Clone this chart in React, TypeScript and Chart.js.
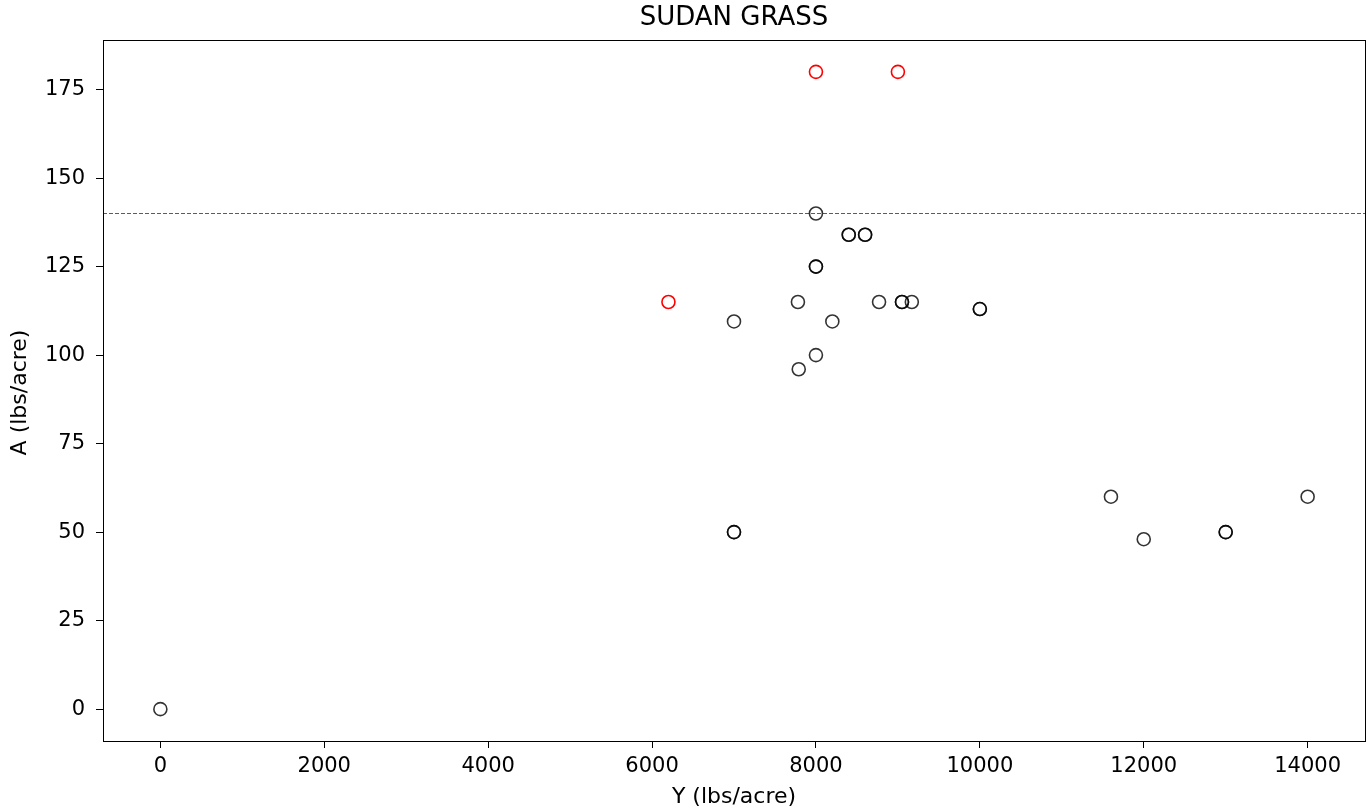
import React, { useEffect, useRef } from "react";
import { Chart, registerables } from "chart.js";

Chart.register(...registerables);

const TITLE = "SUDAN GRASS";
const X_LABEL = "Y (lbs/acre)";
const Y_LABEL = "A (lbs/acre)";

const blackX = [0, 8000, 8400, 8400, 8600, 8600, 8000, 8000, 7780, 8770, 9050, 9050, 9170, 10000, 10000, 7000, 8200, 8000, 7790, 7000, 7000, 11600, 12000, 13000, 13000, 14000];
const blackY = [0, 140, 134, 134, 134, 134, 125, 125, 115, 115, 115, 115, 115, 113, 113, 109.5, 109.5, 100, 96, 50, 50, 60, 48, 50, 50, 60];

const redX = [8000, 9000, 6200];
const redY = [180, 180, 115];

const THRESHOLD = 140;

const X_MIN = -700;
const X_MAX = 14700;
const Y_MIN = -9;
const Y_MAX = 189;
const X_TICKS = [0, 2000, 4000, 6000, 8000, 10000, 12000, 14000];
const Y_TICKS = [0, 25, 50, 75, 100, 125, 150, 175];

const FONT = "'DejaVu Sans', sans-serif";

export default function App() {
  const ref = useRef<HTMLCanvasElement>(null);

  useEffect(() => {
    if (!ref.current) return;
    const toPts = (xs: number[], ys: number[]) => xs.map((x, i) => ({ x, y: ys[i] }));

    const decor = {
      id: "decor",
      afterDraw(chart: any) {
        const { ctx, chartArea } = chart;
        ctx.save();
        ctx.strokeStyle = "#000";
        ctx.lineWidth = 1;
        ctx.strokeRect(Math.round(chartArea.left) + 0.5, Math.round(chartArea.top) + 0.5, Math.round(chartArea.right - chartArea.left), Math.round(chartArea.bottom - chartArea.top));
        ctx.fillStyle = "#000";
        ctx.textAlign = "center";
        ctx.textBaseline = "middle";
        const cx = (chartArea.left + chartArea.right) / 2;
        const cy = (chartArea.top + chartArea.bottom) / 2;
        ctx.font = `26px ${FONT}`;
        ctx.fillText(TITLE, cx, 18);
        ctx.font = `22px ${FONT}`;
        ctx.fillText(X_LABEL, cx, 797);
        ctx.translate(20, cy + 2);
        ctx.rotate(-Math.PI / 2);
        ctx.fillText(Y_LABEL, 0, 0);
        ctx.restore();
      },
    };

    const chart = new Chart(ref.current, {
      type: "scatter",
      data: {
        datasets: [
          {
            type: "line",
            data: [
              { x: X_MIN, y: THRESHOLD },
              { x: X_MAX, y: THRESHOLD },
            ],
            borderColor: "rgba(40,40,255,0.85)",
            borderWidth: 1.2,
            borderDash: [4, 2],
            pointRadius: 0,
            fill: false,
            showLine: true,
            order: 3,
          },
          {
            data: toPts(blackX, blackY),
            pointStyle: "circle",
            pointRadius: 6.5,
            pointBorderWidth: 1.6,
            pointBackgroundColor: "rgba(0,0,0,0)",
            pointBorderColor: "rgba(0,0,0,0.8)",
            order: 1,
          },
          {
            data: toPts(redX, redY),
            pointStyle: "circle",
            pointRadius: 6.5,
            pointBorderWidth: 1.6,
            pointBackgroundColor: "rgba(0,0,0,0)",
            pointBorderColor: "rgba(255,0,0,1)",
            order: 2,
          },
        ],
      },
      plugins: [decor],
      options: {
        animation: false,
        responsive: false,
        events: [],
        layout: { autoPadding: false, padding: { top: 40, right: 3, left: 0, bottom: 0 } },
        plugins: {
          legend: { display: false },
          title: { display: false },
          tooltip: { enabled: false },
        },
        scales: {
          x: {
            type: "linear",
            min: X_MIN,
            max: X_MAX,
            afterBuildTicks(scale: any) {
              scale.ticks = X_TICKS.map((v) => ({ value: v }));
            },
            afterFit(scale: any) {
              scale.height = 69;
              scale.paddingLeft = 0;
              scale.paddingRight = 0;
            },
            ticks: {
              color: "#000",
              font: { family: FONT, size: 21 },
              padding: 6,
              maxRotation: 0,
              autoSkip: false,
              callback: (v: any) => String(v),
            },
            grid: {
              display: true,
              drawOnChartArea: false,
              drawTicks: true,
              tickLength: 7,
              color: "#000",
              lineWidth: 1,
            },
            border: { display: false },
          },
          y: {
            type: "linear",
            min: Y_MIN,
            max: Y_MAX,
            afterBuildTicks(scale: any) {
              scale.ticks = Y_TICKS.map((v) => ({ value: v }));
            },
            afterFit(scale: any) {
              scale.width = 103;
              scale.paddingTop = 0;
              scale.paddingBottom = 0;
            },
            ticks: {
              color: "#000",
              font: { family: FONT, size: 21 },
              padding: 11,
              autoSkip: false,
              callback: (v: any) => String(v),
            },
            grid: {
              display: true,
              drawOnChartArea: false,
              drawTicks: true,
              tickLength: 7,
              color: "#000",
              lineWidth: 1,
            },
            border: { display: false },
          },
        },
      },
    } as any);

    return () => chart.destroy();
  }, []);

  return (
    <div style={{ position: "absolute", left: 0, top: 0, width: 1368, height: 810, background: "#fff" }}>
      <canvas ref={ref} width={1368} height={810} style={{ width: 1368, height: 810, display: "block" }} />
    </div>
  );
}
